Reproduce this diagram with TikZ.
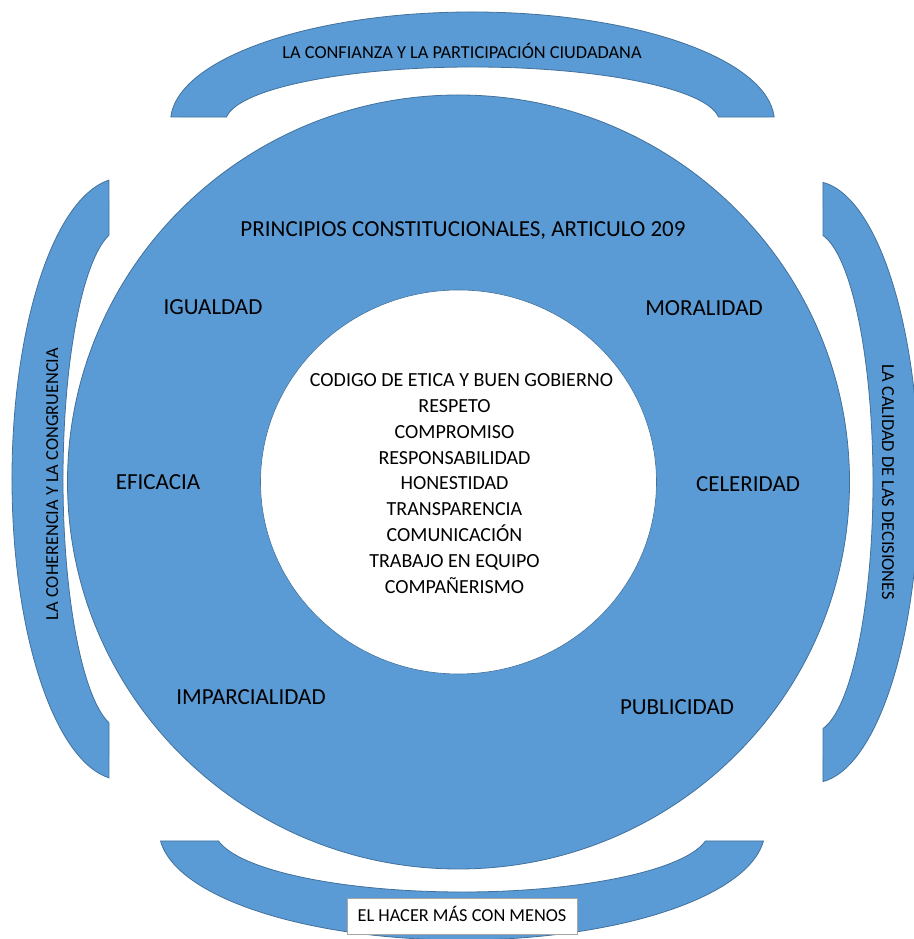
\documentclass[tikz,border=0pt]{standalone}
\usepackage{fontspec}
\setmainfont{Carlito}
\usetikzlibrary{calc}
\definecolor{ringblue}{HTML}{5B9BD5}
\definecolor{ringedge}{HTML}{41719C}
\definecolor{boxedge}{HTML}{A5A5A5}
\begin{document}
\begin{tikzpicture}[x=1pt,y=1pt,
  blockarc/.style={fill=ringblue,draw=ringedge,line width=0.8pt},
  ringlabel/.style={font=\fontsize{23}{27}\selectfont,anchor=base,inner sep=0pt},
  innerlabel/.style={font=\fontsize{20}{24}\selectfont,anchor=base,inner sep=0pt},
  arclabel/.style={font=\fontsize{18.3}{22}\selectfont,anchor=base,inner sep=0pt}]
\useasboundingbox (0,0) rectangle (913,939);
% centres
\coordinate (topc) at (472.5,817);
\coordinate (botc) at (462,109);
\coordinate (leftc) at (122,460);
\coordinate (rightc) at (813,457);
\coordinate (mainc) at (458.5,457);
% top block arc
\draw[blockarc] ($(topc)+(177.4:302 and 110)$)
  arc[start angle=177.4,end angle=2.6,x radius=302,y radius=110]
  -- ($(topc)+(5.2:247 and 55)$)
  arc[start angle=5.2,end angle=174.8,x radius=247,y radius=55] -- cycle;
% bottom block arc
\draw[blockarc] ($(botc)+(185.74:303 and 110)$)
  arc[start angle=185.74,end angle=354.26,x radius=303,y radius=110]
  -- ($(botc)+(349.8:247.4 and 62)$)
  arc[start angle=349.8,end angle=190.2,x radius=247.4,y radius=62] -- cycle;
% left block arc
\draw[blockarc] ($(leftc)+(96.8:110 and 301)$)
  arc[start angle=96.8,end angle=263.2,x radius=110,y radius=301]
  -- ($(leftc)+(257.3:59 and 250)$)
  arc[start angle=257.3,end angle=102.7,x radius=59,y radius=250] -- cycle;
% right block arc
\draw[blockarc] ($(rightc)+(84.6:106 and 301)$)
  arc[start angle=84.6,end angle=-84.6,x radius=106,y radius=301]
  -- ($(rightc)+(-80.4:60 and 250)$)
  arc[start angle=-80.4,end angle=80.4,x radius=60,y radius=250] -- cycle;
% main ring
\draw[blockarc] (mainc) ellipse [x radius=391,y radius=387];
\draw[fill=white,draw=ringedge,line width=0.6pt] (mainc) ellipse [x radius=198,y radius=192];
% ring labels
\node[ringlabel] (principios) at (463,702.6) {PRINCIPIOS CONSTITUCIONALES, ARTICULO 209};
\node[ringlabel] (igualdad) at (213,624.6) {IGUALDAD};
\node[ringlabel] (moralidad) at (704,623.6) {MORALIDAD};
\node[ringlabel] (eficacia) at (158,449.6) {EFICACIA};
\node[ringlabel] (celeridad) at (748,447.6) {CELERIDAD};
\node[ringlabel] (imparcialidad) at (251,234.6) {IMPARCIALIDAD};
\node[ringlabel] (publicidad) at (677,224.6) {PUBLICIDAD};
% inner labels
\node[innerlabel] (i1) at (461.5,552.6) {CODIGO DE ETICA Y BUEN GOBIERNO};
\node[innerlabel] (i2) at (454.5,526.9) {RESPETO};
\node[innerlabel] (i3) at (454.5,500.9) {COMPROMISO};
\node[innerlabel] (i4) at (454.5,474.9) {RESPONSABILIDAD};
\node[innerlabel] (i5) at (454.5,449.3) {HONESTIDAD};
\node[innerlabel] (i6) at (454.5,423.6) {TRANSPARENCIA};
\node[innerlabel] (i7) at (454.5,397.6) {COMUNICACIÓN};
\node[innerlabel] (i8) at (454.5,371.9) {TRABAJO EN EQUIPO};
\node[innerlabel] (i9) at (454.5,345.9) {COMPAÑERISMO};
% arc labels
\node[arclabel] (toplabel) at (462,880) {LA CONFIANZA Y LA PARTICIPACIÓN CIUDADANA};
\node[arclabel,rotate=90] (leftlabel) at (58,455) {LA COHERENCIA Y LA CONGRUENCIA};
\node[arclabel,rotate=-90] (rightlabel) at (882,457) {LA CALIDAD DE LAS DECISIONES};
\node[font=\fontsize{18.3}{22}\selectfont,draw=boxedge,fill=white,line width=0.8pt,
  minimum width=230pt,minimum height=36pt,inner sep=0pt,text height=11.8pt,text depth=0pt]
  (botlabel) at (462,23) {EL HACER MÁS CON MENOS};
\end{tikzpicture}
\end{document}
